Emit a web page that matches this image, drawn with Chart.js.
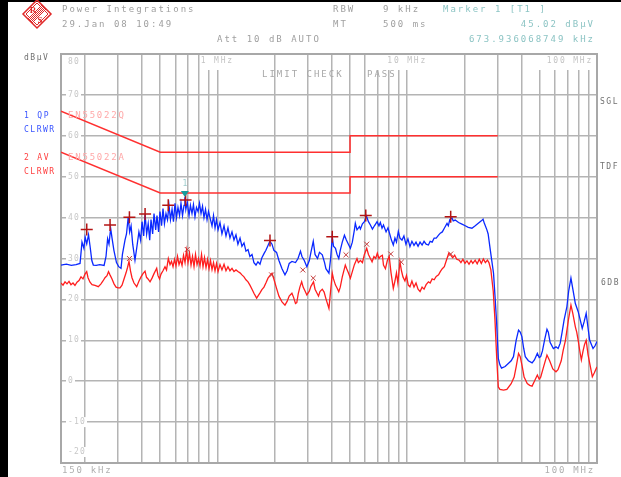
<!DOCTYPE html>
<html>
<head>
<meta charset="utf-8">
<script src="https://cdn.jsdelivr.net/npm/chart.js@4.4.0/dist/chart.umd.min.js"></script>
<style>
  html, body { margin: 0; padding: 0; background: #fff; }
  #wrap { width: 621px; height: 477px; }
</style>
</head>
<body>
<div id="wrap"><canvas id="myChart" width="621" height="477"></canvas></div>
<script>
// frequencies in MHz, levels in dBuV
const qpFreq = [0.150, 0.160, 0.170, 0.180, 0.189, 0.1935, 0.198, 0.201, 0.205, 0.2095, 0.2134, 0.218, 0.222, 0.230, 0.240, 0.253, 0.259, 0.264, 0.2685, 0.274,
    0.2786, 0.285, 0.294, 0.302, 0.3107, 0.316, 0.326, 0.332, 0.339, 0.345, 0.351, 0.358, 0.368, 0.377, 0.386, 0.394, 0.401, 0.409, 0.416, 0.424,
    0.432, 0.440, 0.447, 0.456, 0.4636, 0.473, 0.4806, 0.490, 0.4984, 0.508, 0.517, 0.526, 0.536, 0.546, 0.556, 0.566, 0.577, 0.587, 0.598, 0.609,
    0.620, 0.632, 0.643, 0.655, 0.667, 0.674, 0.682, 0.694, 0.709, 0.721, 0.735, 0.748, 0.762, 0.776, 0.791, 0.805, 0.820, 0.835, 0.850, 0.866,
    0.882, 0.898, 0.914, 0.937, 0.954, 0.972, 0.989, 1.008, 1.032, 1.057, 1.084, 1.110, 1.137, 1.165, 1.194, 1.223, 1.253, 1.283, 1.316, 1.347,
    1.381, 1.414, 1.450, 1.484, 1.522, 1.558, 1.598, 1.635, 1.677, 1.716, 1.760, 1.801, 1.848, 1.890, 1.940, 1.984, 2.05, 2.11, 2.19, 2.27,
    2.33, 2.39, 2.47, 2.58, 2.66, 2.74, 2.79, 2.87, 2.96, 3.05, 3.11, 3.20, 3.27, 3.37, 3.45, 3.57, 3.67, 3.73, 3.87, 3.95,
    4.03, 4.09, 4.19, 4.27, 4.36, 4.44, 4.55, 4.67, 4.78, 4.90, 5.02, 5.14, 5.27, 5.33, 5.44, 5.60, 5.67, 5.81, 5.95, 6.10,
    6.25, 6.40, 6.56, 6.72, 6.94, 7.10, 7.22, 7.37, 7.50, 7.74, 7.92, 8.11, 8.26, 8.45, 8.62, 8.78, 8.98, 9.16, 9.39, 9.61,
    9.85, 10.09, 10.34, 10.59, 10.86, 11.13, 11.41, 11.69, 11.98, 12.27, 12.58, 12.94, 13.21, 13.54, 13.87, 14.22, 14.63, 14.94, 15.31, 15.69,
    16.21, 16.47, 16.77, 17.21, 17.48, 17.91, 18.65, 19.43, 20.22, 20.97, 21.93, 22.83, 23.69, 24.58, 25.1, 25.5, 26.3, 26.7, 27.4, 27.9,
    28.5, 29.0, 29.6, 30.2, 30.8, 31.4, 32.8, 34.2, 35.3, 36.3, 37.5, 38.6, 39.4, 40.2, 41.1, 41.9, 43.5, 45.5, 46.8, 48.5,
    49.6, 50.5, 51.6, 52.9, 54.5, 55.4, 56.6, 58.9, 60.8, 62.4, 64.0, 65.5, 67.1, 69.4, 70.9, 72.9, 74.6, 76.9, 78.2, 79.6,
    81.1, 83.6, 85.5, 87.7, 89.7, 91.5, 95.3, 97.5, 100]
const qpLevel = [28.4, 28.6, 28.3, 28.5, 28.8, 34.0, 32.5, 35.2, 33.6, 35.8, 33.0, 29.5, 28.4, 28.3, 28.5, 28.3, 30.5, 34.8, 33.5, 37.4,
    35.0, 32.0, 29.0, 28.0, 27.6, 31.0, 34.5, 36.0, 40.1, 36.5, 38.0, 33.5, 29.6, 33.0, 36.5, 34.5, 39.0, 35.5, 40.8, 36.0,
    38.5, 34.5, 39.5, 36.0, 41.0, 37.0, 40.5, 36.5, 41.5, 38.0, 42.2, 38.5, 41.0, 39.5, 43.0, 39.5, 42.0, 39.0, 43.5, 40.0,
    42.5, 40.5, 43.5, 40.5, 43.0, 45.0, 42.0, 43.8, 40.5, 43.0, 41.0, 43.2, 40.2, 42.5, 41.5, 43.5, 41.0, 42.8, 40.0, 42.0,
    39.5, 41.5, 40.0, 38.0, 40.5, 37.5, 39.5, 37.0, 38.8, 36.0, 38.0, 35.5, 37.5, 35.0, 36.5, 34.5, 35.8, 33.5, 35.0, 33.0,
    33.8, 31.8, 32.2, 30.5, 31.0, 29.0, 28.4, 29.2, 28.6, 30.2, 31.2, 32.0, 33.2, 34.2, 33.5, 32.0, 31.5, 29.5, 27.5, 26.0,
    27.0, 28.8, 29.3, 29.0, 30.0, 31.8, 30.5, 29.5, 28.0, 29.5, 31.5, 34.2, 31.0, 30.0, 31.5, 30.9, 29.0, 27.5, 26.4, 30.0,
    35.3, 33.0, 32.5, 31.0, 30.0, 32.0, 34.0, 35.7, 34.5, 33.5, 32.5, 34.0, 37.0, 38.6, 37.0, 37.8, 37.2, 38.5, 39.0, 40.4,
    39.0, 38.2, 37.2, 38.0, 39.0, 38.0, 38.8, 37.4, 38.2, 36.5, 37.5, 35.8, 34.5, 33.3, 35.0, 34.0, 36.6, 35.0, 34.5, 35.5,
    33.5, 34.8, 32.9, 34.2, 33.2, 34.0, 33.0, 34.0, 33.3, 34.2, 33.5, 33.3, 34.2, 34.0, 35.0, 35.0, 35.7, 36.2, 36.5, 37.4,
    38.6, 38.0, 39.5, 39.9, 39.2, 39.4, 38.8, 38.4, 38.0, 37.6, 37.4, 38.0, 38.6, 39.2, 39.6, 38.6, 37.0, 36.0, 32.1, 29.5,
    26.4, 21.0, 14.2, 5.6, 4.0, 3.2, 3.6, 4.4, 5.0, 6.0, 10.0, 12.5, 12.0, 10.9, 8.0, 6.0, 5.0, 4.5, 5.2, 6.8,
    5.8, 6.0, 7.4, 10.0, 12.7, 12.0, 9.5, 8.0, 8.4, 8.0, 9.3, 12.0, 15.0, 18.2, 22.0, 25.2, 22.5, 19.0, 18.0, 17.0,
    15.5, 12.9, 14.5, 16.6, 13.0, 10.0, 8.0, 8.6, 9.7]

const avFreq = [0.150, 0.1537, 0.1575, 0.1613, 0.1653, 0.1693, 0.1735, 0.1777, 0.1821, 0.1866, 0.1912, 0.1959, 0.2007, 0.2049, 0.2082, 0.2133, 0.2186, 0.2266, 0.2359, 0.2436,
    0.2496, 0.2558, 0.2621, 0.2669, 0.2718, 0.2785, 0.2854, 0.2925, 0.2996, 0.3070, 0.3145, 0.3222, 0.3302, 0.3362, 0.3423, 0.3485, 0.3549, 0.3636, 0.3757, 0.3864,
    0.3960, 0.4057, 0.4157, 0.4233, 0.4311, 0.4418, 0.4526, 0.4636, 0.4789, 0.4866, 0.4955, 0.5047, 0.5169, 0.5297, 0.5395, 0.5515, 0.5630, 0.5733, 0.5838, 0.5945,
    0.6054, 0.6166, 0.6279, 0.6395, 0.6513, 0.6632, 0.6753, 0.6878, 0.7004, 0.7130, 0.7263, 0.7396, 0.7532, 0.7670, 0.7812, 0.7956, 0.8100, 0.8250, 0.8400, 0.8555,
    0.8712, 0.8872, 0.9036, 0.9201, 0.9370, 0.9543, 0.9718, 0.9896, 1.008, 1.032, 1.057, 1.084, 1.110, 1.137, 1.165, 1.194, 1.223, 1.253, 1.283, 1.316,
    1.347, 1.381, 1.414, 1.450, 1.484, 1.522, 1.558, 1.61, 1.635, 1.677, 1.716, 1.760, 1.801, 1.848, 1.890, 1.940, 1.984, 2.05, 2.11, 2.19,
    2.27, 2.33, 2.39, 2.47, 2.52, 2.58, 2.62, 2.67, 2.72, 2.78, 2.83, 2.90, 2.96, 3.05, 3.11, 3.21, 3.27, 3.35, 3.41, 3.47,
    3.57, 3.65, 3.73, 3.87, 3.92, 4.03, 4.09, 4.19, 4.27, 4.36, 4.44, 4.55, 4.72, 4.80, 4.90, 5.02, 5.14, 5.27, 5.44, 5.53,
    5.67, 5.81, 5.95, 6.12, 6.25, 6.40, 6.53, 6.68, 6.82, 6.96, 7.10, 7.22, 7.40, 7.50, 7.68, 7.86, 8.04, 8.22, 8.45, 8.62,
    8.78, 8.93, 9.16, 9.33, 9.50, 9.73, 9.91, 10.13, 10.34, 10.59, 10.86, 11.13, 11.41, 11.69, 11.98, 12.27, 12.58, 12.94, 13.21, 13.54,
    13.87, 14.22, 14.63, 14.94, 15.31, 15.69, 16.08, 16.56, 16.92, 17.36, 17.79, 18.24, 18.77, 19.19, 19.65, 20.15, 20.65, 21.17, 21.71, 22.17,
    22.81, 23.38, 23.97, 24.57, 25.19, 25.82, 26.47, 26.96, 27.6, 28.4, 29.0, 29.6, 30.2, 30.8, 32.2, 33.5, 35.3, 36.6, 37.5, 38.6,
    39.4, 40.4, 41.3, 42.9, 44.2, 45.5, 46.8, 48.5, 49.6, 50.5, 52.3, 54.5, 56.3, 58.5, 60.8, 62.3, 64.8, 66.3, 68.2, 70.7,
    72.9, 74.6, 76.9, 78.2, 79.6, 81.1, 82.7, 84.5, 86.0, 87.7, 89.7, 91.5, 94.5, 96.7, 100]
const avLevel = [24.0, 23.5, 24.3, 23.8, 24.4, 23.6, 24.0, 23.4, 24.2, 24.6, 25.5, 25.0, 26.2, 26.8, 25.3, 24.2, 23.6, 23.4, 23.1, 23.8,
    24.5, 25.3, 25.8, 26.8, 26.0, 25.0, 23.8, 23.0, 22.8, 22.8, 23.5, 25.0, 26.5, 27.8, 29.3, 27.0, 25.3, 24.0, 23.1, 24.5,
    25.5, 26.3, 26.9, 25.4, 25.0, 24.3, 25.2, 26.3, 27.6, 25.8, 25.0, 26.2, 27.0, 28.0, 27.2, 30.0, 28.5, 29.3, 28.0, 29.8,
    28.2, 30.5, 28.5, 29.7, 28.3, 30.8, 29.0, 32.0, 29.0, 31.3, 28.4, 30.5, 28.0, 31.0, 28.5, 30.0, 28.2, 31.0, 28.0, 30.2,
    27.8, 29.8, 27.5, 29.5, 27.3, 29.0, 27.0, 28.8, 26.8, 28.5, 27.2, 28.6, 27.0, 28.0, 27.0, 27.6, 26.8, 27.2, 26.8, 26.5,
    26.0, 25.5, 24.8, 24.3, 23.5, 22.5, 21.5, 20.3, 20.8, 21.6, 22.4, 23.0, 24.0, 25.2, 25.8, 26.4, 25.0, 22.7, 20.8, 19.4,
    18.6, 19.5, 20.8, 21.5, 20.5, 19.0, 19.2, 21.5, 23.0, 24.3, 23.0, 22.0, 21.1, 22.0, 23.2, 24.3, 22.5, 21.5, 20.8, 21.9,
    22.5, 21.8, 20.2, 17.8, 20.5, 26.4, 25.0, 23.5, 22.8, 21.9, 23.0, 25.5, 28.4, 27.5, 26.5, 25.2, 26.8, 28.5, 30.0, 29.0,
    29.5, 29.0, 31.0, 32.5, 31.0, 30.0, 29.2, 30.5, 30.0, 31.3, 30.0, 30.5, 30.8, 28.4, 27.5, 29.5, 30.5, 26.5, 22.7, 24.5,
    26.5, 24.0, 29.2, 27.0, 25.5, 24.5, 25.8, 23.5, 23.1, 24.5, 23.0, 24.0, 22.5, 21.9, 23.0, 22.5, 23.6, 24.3, 24.0, 25.0,
    24.8, 25.6, 26.0, 26.8, 27.5, 28.0, 29.5, 31.3, 30.9, 30.2, 30.8, 29.8, 29.6, 29.0, 29.8, 28.8, 29.4, 28.6, 29.5, 28.8,
    29.6, 28.7, 29.8, 28.8, 29.9, 29.0, 29.6, 29.0, 27.2, 22.0, 15.0, 6.0, -1.4, -2.0, -2.2, -2.0, -0.6, 1.0, 3.5, 6.8,
    6.0, 3.5, 1.0, -0.6, -1.0, -1.2, 0.0, 1.5, 0.5, 1.0, 3.5, 6.4, 5.0, 3.0, 2.3, 2.8, 5.0, 7.5, 10.0, 15.0,
    18.6, 16.5, 13.3, 12.0, 10.0, 7.5, 5.2, 7.5, 9.0, 10.0, 6.5, 4.4, 1.1, 2.0, 3.5]

// EN55022 class B limits
const qpLimitFreq = [0.15, 0.5, 5, 5, 30]
const qpLimitLevel = [66, 56, 56, 60, 60]
const avLimitFreq = [0.15, 0.5, 5, 5, 30]
const avLimitLevel = [56, 46, 46, 50, 50]

// final measurement peaks
const qpPeakFreq = [0.205, 0.272, 0.344, 0.416, 0.551, 0.68, 1.893, 4.03, 6.05, 16.95]
const qpPeakLevel = [37.1, 38.2, 40.1, 40.9, 43.0, 44.3, 34.4, 35.3, 40.5, 40.2]
const avPeakFreq = [0.344, 0.694, 1.93, 2.82, 3.20, 4.76, 6.12, 8.19, 9.31, 16.95]
const avPeakLevel = [30.0, 32.2, 26.0, 27.2, 25.2, 30.9, 33.5, 31.1, 29.1, 31.1]

const markerFreq = 0.673936068749
const markerLevel = 45.02

const gridFreq = [0.2, 0.3, 0.4, 0.5, 0.6, 0.7, 0.8, 0.9, 1, 2, 3, 4, 5, 6, 7, 8, 9, 10, 20, 30, 40, 50, 60, 70, 80, 90]
const levelTicks = [-20, -10, 0, 10, 20, 30, 40, 50, 60, 70, 80]
const levelLabels = ['-20', '-10', '0', '10', '20', '30', '40', '50', '60', '70', '80']
const decadeFreq = [1, 10, 100]
const decadeLabels = ['1 MHz', '10 MHz', '100 MHz']

const pts = (f, v) => f.map((x, i) => ({x: x, y: v[i]}))

const MONO = '"DejaVu Sans Mono", monospace'

function txt(ctx, s, x, y, color, size, spacing, align) {
    ctx.font = size + 'px ' + MONO
    ctx.letterSpacing = spacing + 'px'
    ctx.fillStyle = color
    ctx.textAlign = align || 'left'
    ctx.textBaseline = 'middle'
    ctx.fillText(s, x, y)
}

function drawLogo(ctx) {
    const cx = 37, cy = 14, r = 14
    ctx.save()
    ctx.strokeStyle = '#e02828'
    ctx.lineWidth = 1.5
    ctx.beginPath()
    ctx.moveTo(cx, cy - r); ctx.lineTo(cx + r, cy); ctx.lineTo(cx, cy + r); ctx.lineTo(cx - r, cy)
    ctx.closePath()
    ctx.stroke()
    ctx.lineWidth = 1
    ctx.beginPath()
    ctx.moveTo(cx, cy - r + 3); ctx.lineTo(cx + r - 3, cy); ctx.lineTo(cx, cy + r - 3); ctx.lineTo(cx - r + 3, cy)
    ctx.closePath()
    ctx.stroke()
    // hatched band
    for (let k = -2; k <= 2; k++) {
        ctx.beginPath()
        ctx.moveTo(cx + 7 + k, cy - 7 + k)
        ctx.lineTo(cx - 7 + k, cy + 7 + k)
        ctx.stroke()
    }
    ctx.fillStyle = '#e02828'
    ctx.font = 'bold 9px "Liberation Serif"'
    ctx.letterSpacing = '0px'
    ctx.textAlign = 'center'
    ctx.textBaseline = 'middle'
    ctx.fillText('R', cx - 4, cy - 3)
    ctx.fillText('S', cx + 3, cy + 7)
    ctx.restore()
}

const decorPlugin = {
    id: 'decor',
    beforeDatasetsDraw(chart) {
        const ctx = chart.ctx
        const a = chart.chartArea
        const xs = chart.scales.x, ys = chart.scales.y
        ctx.save()
        // boxes behind decade labels
        ctx.fillStyle = '#ffffff'
        ctx.fillRect(203, a.top + 1, 40, 15)
        ctx.fillRect(371, a.top + 1, 61, 15)
        ctx.fillRect(530, a.top + 1, a.right - 531, 15)
        decadeFreq.forEach((f, i) => {
            const px = xs.getPixelForValue(f)
            const w = 40
            const x = Math.min(px, a.right - 4 - w / 2 - 4)
            txt(ctx, decadeLabels[i], i === 2 ? a.right - 4 : px, a.top + 7, '#c4c4c4', 8, 1.8, i === 2 ? 'right' : 'center')
        })
        // level labels on the left
        levelTicks.forEach((v, i) => {
            let py = ys.getPixelForValue(v)
            if (v === 80) py = a.top + 8
            if (v === -20) py = a.bottom - 11
            ctx.fillStyle = '#ffffff'
            ctx.fillRect(a.left + 5, py - 5, levelLabels[i].length * 6 + 3, 10)
            txt(ctx, levelLabels[i], a.left + 7, py, '#c8c8c8', 8, 1.2)
        })
        txt(ctx, 'LIMIT CHECK', 262, 75, '#a8a8a8', 9, 2)
        txt(ctx, 'PASS', 367, 75, '#a8a8a8', 9, 2)
        // frame
        ctx.strokeStyle = '#a8a8a8'
        ctx.lineWidth = 2
        ctx.strokeRect(a.left, a.top, a.right - a.left, a.bottom - a.top)
        ctx.restore()
    },
    afterDraw(chart) {
        const ctx = chart.ctx
        const xs = chart.scales.x, ys = chart.scales.y
        ctx.save()
        // marker 1
        const mx = xs.getPixelForValue(markerFreq)
        const my = ys.getPixelForValue(markerLevel)
        ctx.fillStyle = '#189c9c'
        ctx.beginPath()
        ctx.moveTo(mx - 4, my - 6); ctx.lineTo(mx + 4, my - 6); ctx.lineTo(mx, my)
        ctx.closePath()
        ctx.fill()
        txt(ctx, '1', mx, my - 13, '#9ccccc', 8, 0, 'center')

        // outer frame of screen
        ctx.fillStyle = '#000000'
        ctx.fillRect(0, 0, 621, 2)
        ctx.fillRect(0, 0, 8, 477)
        drawLogo(ctx)

        const grey = '#a0a0a0'
        txt(ctx, 'Power Integrations', 62, 10, grey, 9, 2)
        txt(ctx, '29.Jan 08 10:49', 62, 25, grey, 9, 2)
        txt(ctx, 'Att 10 dB AUTO', 217, 40, grey, 9, 2)
        txt(ctx, 'RBW', 333, 10, grey, 9, 2)
        txt(ctx, '9 kHz', 383, 10, grey, 9, 2)
        txt(ctx, 'MT', 333, 25, grey, 9, 2)
        txt(ctx, '500 ms', 383, 25, grey, 9, 2)
        const cyan = '#8cc4c4'
        txt(ctx, 'Marker 1 [T1 ]', 443, 10, cyan, 9, 2)
        txt(ctx, '45.02 dB\u00b5V', 595, 25, cyan, 9, 2, 'right')
        txt(ctx, '673.936068749 kHz', 595, 40, cyan, 9, 2, 'right')

        txt(ctx, 'dB\u00b5V', 24, 58, '#707070', 8, 1.5)
        txt(ctx, '1 QP', 24, 116, '#3a55ff', 8, 1.8)
        txt(ctx, 'CLRWR', 24, 130, '#3a55ff', 8, 1.5)
        txt(ctx, '2 AV', 24, 158, '#ff4040', 8, 1.8)
        txt(ctx, 'CLRWR', 24, 172, '#ff4040', 8, 1.5)
        txt(ctx, 'EN55022Q', 68, 116, '#ffa8a8', 9, 1.8)
        txt(ctx, 'EN55022A', 68, 158, '#ffa8a8', 9, 1.8)

        txt(ctx, 'SGL', 600, 102, '#707070', 8, 1.5)
        txt(ctx, 'TDF', 600, 167, '#707070', 8, 1.5)
        txt(ctx, '6DB', 601, 283, '#707070', 8, 1.5)

        txt(ctx, '150 kHz', 62, 471, '#b0b0b0', 9, 1.8)
        txt(ctx, '100 MHz', 595, 471, '#b0b0b0', 9, 1.8, 'right')
        ctx.restore()
    }
}

const data = {
    datasets: [{
            label: 'QP peaks',
            data: pts(qpPeakFreq, qpPeakLevel),
            showLine: false,
            pointStyle: 'cross',
            pointRadius: 6,
            borderColor: '#b41414',
            borderWidth: 1.5
        },
        {
            label: 'AV peaks',
            data: pts(avPeakFreq, avPeakLevel),
            showLine: false,
            pointStyle: 'crossRot',
            pointRadius: 3.5,
            borderColor: '#c43c3c',
            borderWidth: 1
        },
        {
            label: '2 AV',
            data: pts(avFreq, avLevel),
            borderColor: '#ff1e1e',
            borderWidth: 1.3,
            pointRadius: 0
        },
        {
            label: '1 QP',
            data: pts(qpFreq, qpLevel),
            borderColor: '#0a28ff',
            borderWidth: 1.3,
            pointRadius: 0
        },
        {
            label: 'EN55022Q',
            data: pts(qpLimitFreq, qpLimitLevel),
            borderColor: '#ff3030',
            borderWidth: 1.5,
            pointRadius: 0
        },
        {
            label: 'EN55022A',
            data: pts(avLimitFreq, avLimitLevel),
            borderColor: '#ff3030',
            borderWidth: 1.5,
            pointRadius: 0
        }
    ]
}

const gridStyle = {color: '#b4b4b4', lineWidth: 1.5, drawTicks: false}

const config = {
    type: 'line',
    data: data,
    options: {
        responsive: false,
        animation: false,
        layout: {padding: {left: 61, right: 24, top: 54, bottom: 14}},
        plugins: {legend: {display: false}, tooltip: {enabled: false}},
        scales: {
            x: {
                type: 'logarithmic',
                min: 0.15,
                max: 100,
                bounds: 'data',
                afterBuildTicks: s => { s.ticks = gridFreq.map(v => ({value: v})) },
                ticks: {display: false},
                grid: gridStyle,
                border: {display: false}
            },
            y: {
                type: 'linear',
                min: -20,
                max: 80,
                afterBuildTicks: s => { s.ticks = levelTicks.map(v => ({value: v})) },
                ticks: {display: false},
                grid: gridStyle,
                border: {display: false}
            }
        }
    },
    plugins: [decorPlugin]
}

var myChart = new Chart(
    document.getElementById('myChart'),
    config
)
</script>
</body>
</html>
